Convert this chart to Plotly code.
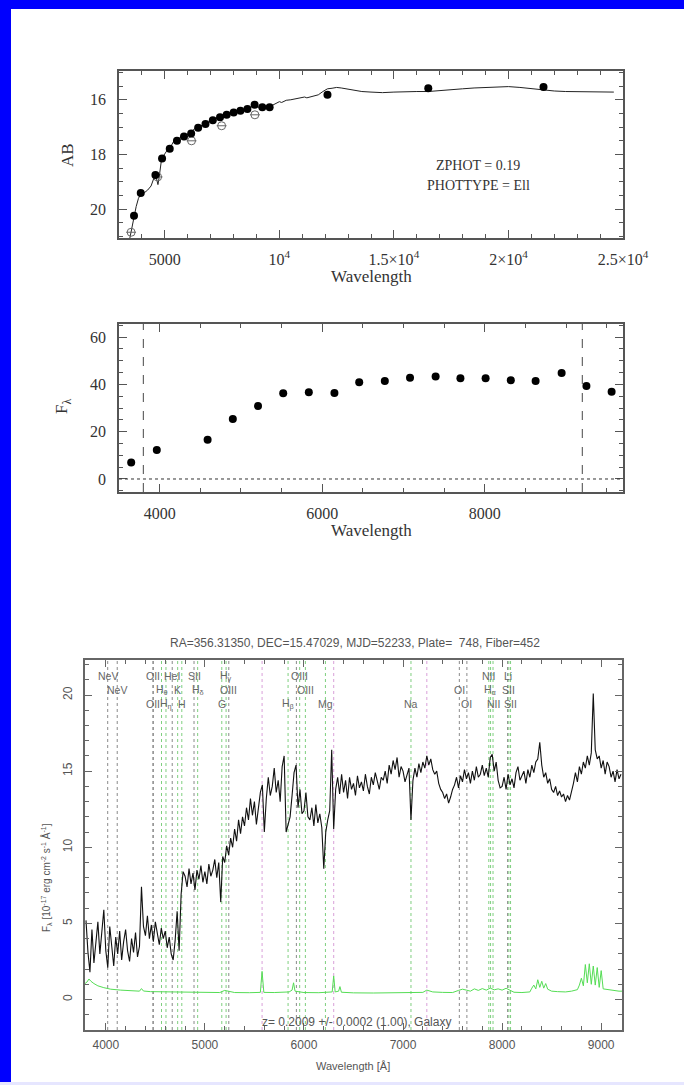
import plotly.graph_objects as go

W, H = 684, 1085

# ---------------- photometric SED (AB magnitudes) ----------------
phot_wave = [3655, 3950, 4590, 4880, 5215, 5530, 5837, 6150, 6455, 6775, 7095,
             7410, 7700, 8005, 8300, 8605, 8920, 9255, 9575, 12100, 16500, 21530]
phot_ab = [20.24, 19.41, 18.75, 18.15, 17.79, 17.50, 17.34, 17.23, 17.02, 16.89, 16.75,
           16.64, 16.55, 16.47, 16.40, 16.34, 16.18, 16.27, 16.27, 15.82, 15.58, 15.53]

ugriz_wave = [3530, 4686, 6166, 7480, 8932]
ugriz_ab = [20.84, 18.82, 17.50, 16.95, 16.55]

model_wave = [3450, 3550, 3650, 3750, 3850, 3950, 4100, 4250, 4400, 4500, 4550, 4600,
              4650, 4700, 4750, 4800, 4850, 4900, 5000, 5100, 5200, 5300, 5400, 5500,
              5600, 5700, 5800, 5900, 6000, 6100, 6200, 6300, 6400, 6500, 6700, 6900,
              7100, 7300, 7500, 7700, 7900, 8100, 8300, 8500, 8700, 8900, 9000, 9100,
              9300, 9500, 9700, 9900, 10000, 10100, 10200, 10300, 10500, 10800, 11100,
              11200, 11400, 11700, 11900, 12100, 12300, 12500, 12700, 12900, 13200,
              13600, 14000, 14500, 15000, 15500, 16000, 16500, 17000, 17500, 18000,
              18500, 19000, 19500, 20000, 20500, 21000, 21500, 22000, 22500, 23000,
              23500, 24000, 24600]
model_ab = [21.15, 20.70, 20.30, 19.90, 19.60, 19.45, 19.40, 19.30, 19.15, 18.90, 18.80,
            18.75, 18.95, 19.10, 18.85, 18.50, 18.22, 18.10, 17.95, 17.85, 17.80, 17.65,
            17.50, 17.45, 17.42, 17.38, 17.33, 17.30, 17.27, 17.23, 17.15, 17.05, 17.02,
            16.98, 16.90, 16.80, 16.74, 16.67, 16.62, 16.56, 16.50, 16.45, 16.40, 16.36,
            16.30, 16.22, 16.25, 16.27, 16.25, 16.27, 16.20, 16.10, 16.07, 16.10, 16.05,
            16.02, 16.00, 15.95, 15.90, 15.93, 15.88, 15.82, 15.70, 15.60, 15.58, 15.55,
            15.57, 15.60, 15.65, 15.70, 15.72, 15.74, 15.72, 15.70, 15.70, 15.70, 15.66,
            15.63, 15.60, 15.57, 15.55, 15.52, 15.52, 15.55, 15.60, 15.64, 15.68, 15.70,
            15.70, 15.71, 15.72, 15.72]

zphot_text = ["ZPHOT = 0.19", "PHOTTYPE = Ell"]

# ---------------- synthetic spectro-photometry ----------------
synth_wave = [3650, 3965, 4590, 4900, 5210, 5520, 5835, 6150, 6455, 6770, 7080,
              7395, 7700, 8010, 8320, 8625, 8945, 9250, 9560]
synth_flux = [7.0, 12.2, 16.6, 25.4, 30.8, 36.2, 36.7, 36.3, 40.9, 41.4, 42.8,
              43.3, 42.6, 42.6, 41.7, 41.4, 44.8, 39.3, 36.9]
spec_limits = [3800, 9200]

# ---------------- SDSS spectrum ----------------
spec_start, spec_step = 3800, 20
spec_flux = [
    5.2, 3.1, 1.8, 4.6, 2.4, 3.9, 5.1, 3.0, 4.4, 5.9,
    3.2, 2.1, 4.8, 3.6, 2.2, 4.1, 3.0, 4.5, 2.6, 3.8,
    4.6, 3.2, 2.5, 4.0, 3.1, 4.4, 2.8, 3.5, 7.4, 4.8,
    4.2, 5.5, 4.0, 4.9, 3.8, 5.1, 4.3, 3.6, 4.7, 4.0,
    4.5, 3.4, 4.1, 3.0, 2.6, 3.9, 5.8, 3.2, 6.9, 8.4,
    8.1, 7.4, 8.6, 7.6, 8.3, 7.2, 8.5, 7.9, 8.8, 7.7,
    8.4, 7.6, 8.9, 8.1, 8.5, 9.2, 8.0, 9.0, 6.4, 9.4,
    9.0, 10.1, 9.5, 10.6, 10.0, 11.2, 10.4, 11.8, 10.9, 12.0,
    11.4, 12.6, 11.8, 13.2, 12.1, 13.0, 11.5, 12.4, 13.6, 14.1,
    11.0, 13.2, 14.6, 13.4, 14.0, 15.2, 13.6, 14.4, 13.0, 15.3,
    16.0, 11.0, 11.6, 12.0, 13.4, 14.9, 15.4, 12.6, 13.8, 12.2,
    12.4, 13.6, 12.0, 11.8, 12.6, 11.4, 12.8, 11.6, 12.2, 11.3,
    8.6, 11.0, 11.8, 12.4, 16.4, 11.2, 13.8, 14.6, 13.5, 14.8,
    13.6, 14.4, 13.2, 14.6, 13.8, 14.2, 13.4, 14.7, 13.9, 14.3,
    13.7, 14.8, 14.0, 13.5, 14.6, 14.1, 14.9, 14.3, 13.8, 14.6,
    14.4, 15.0, 14.2, 15.4, 14.8, 15.7, 15.1, 15.9, 14.6, 15.3,
    15.0, 14.3, 14.8, 15.2, 11.8, 14.4, 15.2, 14.6, 15.5, 14.9,
    15.6, 15.2, 16.0, 15.4, 15.8, 15.1, 14.8, 15.0, 14.2, 13.8,
    13.6, 13.2, 13.5, 12.9, 13.3, 13.8, 14.1, 14.6, 13.9, 14.7,
    14.3, 15.1, 14.5, 14.9, 14.2, 15.0, 14.4, 15.3, 14.6, 14.8,
    15.4, 14.7, 15.2, 14.6, 15.9, 16.1, 15.0, 15.6, 14.4, 13.9,
    14.0, 14.6, 13.8, 14.8, 14.1, 14.5, 13.9, 14.9, 15.3, 14.4,
    14.7, 15.0, 14.2, 15.1, 14.6, 15.4, 14.9, 15.6, 15.8, 16.9,
    15.4, 14.6, 14.9, 14.2, 14.5, 13.8, 13.6, 14.0, 13.4, 13.7,
    13.3, 13.5, 13.0, 13.4, 13.1, 13.6, 14.2, 14.9, 14.3, 15.3,
    14.8, 15.6, 15.2, 16.0, 15.4, 16.2, 20.1, 16.4, 15.8, 16.0,
    15.2, 15.7, 14.8, 15.6, 15.3, 14.6, 15.0, 14.3, 15.1, 14.5,
    14.8,
]
spec_wave = [spec_start + spec_step * i for i in range(len(spec_flux))]

err_wave = [3790, 3810, 3830, 3850, 3880, 3920, 3980, 4050, 4150, 4250, 4340, 4360,
            4380, 4450, 4600, 4800, 5000, 5150, 5200, 5300, 5450, 5560, 5577, 5595,
            5700, 5850, 5880, 5895, 5910, 6000, 6150, 6250, 6285, 6300, 6315, 6350,
            6363, 6378, 6500, 6700, 6900, 7000, 7200, 7240, 7270, 7300, 7400, 7500,
            7560, 7600, 7640, 7680, 7720, 7760, 7800, 7840, 7880, 7920, 7960, 8000,
            8040, 8080, 8120, 8200, 8280, 8300, 8320, 8340, 8360, 8380, 8400, 8420,
            8440, 8460, 8500, 8560, 8640, 8700, 8760, 8780, 8800, 8820, 8840, 8860,
            8880, 8900, 8920, 8940, 8960, 8980, 9000, 9020, 9060, 9100, 9140, 9180,
            9210]
err_flux = [1.05, 1.15, 1.35, 1.20, 1.05, 0.90, 0.78, 0.68, 0.62, 0.58, 0.55, 0.72,
            0.56, 0.52, 0.50, 0.48, 0.46, 0.46, 0.60, 0.46, 0.45, 0.47, 1.85, 0.47,
            0.46, 0.50, 0.62, 1.10, 0.55, 0.46, 0.45, 0.46, 0.50, 1.55, 0.50, 0.55,
            0.85, 0.48, 0.44, 0.43, 0.44, 0.43, 0.47, 0.62, 0.55, 0.50, 0.47, 0.46,
            0.60, 0.68, 0.62, 0.55, 0.70, 0.60, 0.72, 0.62, 0.75, 0.64, 0.70, 0.62,
            0.74, 0.60, 0.48, 0.46, 0.50, 0.75, 0.95, 0.70, 1.30, 0.80, 1.20, 0.75,
            1.05, 0.68, 0.55, 0.52, 0.50, 0.55, 0.65, 0.95, 1.40, 0.90, 2.30, 1.10,
            2.35, 1.00, 2.20, 0.95, 2.10, 0.80, 1.90, 0.70, 0.65, 0.60, 0.58, 0.55,
            0.55]

redshift = 0.2009
# rest-frame line list: wavelength, label, label row, marker colour class
line_rest = [3346.79, 3426.85, 3727.09, 3729.88, 3798.98, 3836.47, 3889.00, 3934.78,
             3969.59, 4072.30, 4102.89, 4305.61, 4341.68, 4364.44, 4862.68, 4932.60,
             4960.30, 5008.24, 5176.70, 5895.60, 6302.05, 6365.54, 6549.86, 6564.61,
             6585.27, 6707.89, 6718.29, 6732.67]
line_name = ["NeV", "NeV", "OII", "OII", "H<sub>θ</sub>", "H<sub>η</sub>", "HeI", "K",
             "H", "SII", "H<sub>δ</sub>", "G", "H<sub>γ</sub>", "OIII", "H<sub>β</sub>", "",
             "OIII", "OIII", "Mg", "Na", "OI", "OI", "NII", "H<sub>α</sub>",
             "NII", "Li", "SII", "SII"]
line_row = [1, 2, 1, 3, 2, 3, 1, 2, 3, 1, 2, 3, 1, 2, 3, 0, 1, 2, 3, 3, 2, 3, 1, 2, 3, 1, 2, 3]
line_kind = ["e", "e", "e", "e", "a", "a", "e", "a", "a", "e", "a", "a", "a", "e", "a", "e",
             "a", "a", "a", "a", "e", "e", "a", "a", "a", "e", "a", "a"]
sky_lines = [5577.3, 6300.3, 7240.0]

spec_title = "RA=356.31350, DEC=15.47029, MJD=52233, Plate=  748, Fiber=452"
z_text = "z= 0.2009 +/- 0.0002 (1.00), Galaxy"


def px_x(p):
    return p / W


def px_y(p):
    return 1 - p / H


SERIF = "Liberation Serif"
SANS = "Liberation Sans"
INK = "#333333"
FRAME = "#555555"
SGRAY = "#555555"

fig = go.Figure()

# panel 1: SED model and photometry
fig.add_trace(go.Scatter(x=model_wave, y=model_ab, mode="lines",
                         line=dict(color="#222222", width=1), xaxis="x", yaxis="y"))
fig.add_trace(go.Scatter(x=ugriz_wave, y=ugriz_ab, mode="markers",
                         marker=dict(symbol="circle-open", size=8, color="#666666",
                                     line=dict(color="#666666", width=1)),
                         xaxis="x", yaxis="y"))
fig.add_trace(go.Scatter(x=ugriz_wave, y=ugriz_ab, mode="markers",
                         marker=dict(symbol="line-ew", size=7, color="#666666",
                                     line=dict(color="#666666", width=1)),
                         xaxis="x", yaxis="y"))
fig.add_trace(go.Scatter(x=phot_wave, y=phot_ab, mode="markers",
                         marker=dict(symbol="circle", size=8, color="black"),
                         xaxis="x", yaxis="y"))

# panel 2: synthetic fluxes
fig.add_trace(go.Scatter(x=synth_wave, y=synth_flux, mode="markers",
                         marker=dict(symbol="circle", size=8, color="black"),
                         xaxis="x2", yaxis="y2"))

# panel 3: spectrum and error
fig.add_trace(go.Scatter(x=err_wave, y=err_flux, mode="lines",
                         line=dict(color="#55dd55", width=1), xaxis="x3", yaxis="y3"))
fig.add_trace(go.Scatter(x=spec_wave, y=spec_flux, mode="lines",
                         line=dict(color="#111111", width=1.1), xaxis="x3", yaxis="y3"))

shapes = []
annotations = []

# frame colour border around the page
shapes.append(dict(type="rect", xref="paper", yref="paper", x0=0, x1=px_x(11), y0=0, y1=1,
                   fillcolor="#0000fe", line=dict(width=0), layer="above"))
shapes.append(dict(type="rect", xref="paper", yref="paper", x0=0, x1=1, y0=px_y(9), y1=1,
                   fillcolor="#0000fe", line=dict(width=0), layer="above"))
shapes.append(dict(type="rect", xref="paper", yref="paper", x0=0, x1=1, y0=0, y1=px_y(1082),
                   fillcolor="#e6e6ff", line=dict(width=0), layer="above"))

# panel 2 reference lines
shapes.append(dict(type="line", xref="x2 domain", yref="y2", x0=0, x1=1, y0=0, y1=0,
                   line=dict(color="#333333", width=1, dash="dot")))
for w in spec_limits:
    shapes.append(dict(type="line", xref="x2", yref="y2 domain", x0=w, x1=w, y0=0, y1=1,
                       line=dict(color="#666666", width=1.2, dash="dash")))


def label(x, y, text, font, xref="paper", angle=0):
    return dict(x=x, y=y, xref=xref, yref="paper", text=text, showarrow=False,
                xanchor="center", yanchor="middle", textangle=angle, font=font)


# panel 3 line markers
kind_color = {"e": "#8a8a8a", "a": "#7fcf7f"}
row_y = {1: 676, 2: 690, 3: 704}
line_font = dict(family=SANS, size=10.5, color="#666666")
for rest, name, row, kind in zip(line_rest, line_name, line_row, line_kind):
    obs = rest * (1 + redshift)
    shapes.append(dict(type="line", xref="x3", yref="y3 domain", x0=obs, x1=obs, y0=0, y1=1,
                       line=dict(color=kind_color[kind], width=1, dash="dot"), layer="below"))
    if name and row:
        annotations.append(label(obs, px_y(row_y[row]), name, line_font, xref="x3"))
for w in sky_lines:
    shapes.append(dict(type="line", xref="x3", yref="y3 domain", x0=w, x1=w, y0=0, y1=1,
                       line=dict(color="#d9a0d9", width=1, dash="dot"), layer="below"))

serif14 = dict(family=SERIF, size=14, color=INK)
serif17 = dict(family=SERIF, size=17, color=INK)
sans12 = dict(family=SANS, size=12, color=SGRAY)
sans11 = dict(family=SANS, size=11, color=SGRAY)
sans10 = dict(family=SANS, size=10, color=SGRAY)

annotations += [
    label(px_x(478), px_y(165), zphot_text[0], serif14),
    label(px_x(478), px_y(185), zphot_text[1], serif14),
    label(px_x(371), px_y(277), "Wavelength", serif17),
    label(px_x(68), px_y(155), "AB", serif17, angle=-90),
    label(px_x(371), px_y(530), "Wavelength", serif17),
    label(px_x(63), px_y(407), "F<sub>λ</sub>", serif17, angle=-90),
    label(px_x(355), px_y(643), spec_title, sans12),
    label(px_x(357), px_y(1022), z_text, sans12),
    label(px_x(353), px_y(1066), "Wavelength [Å]", sans11),
    label(px_x(46), px_y(878),
          "F<sub>λ</sub> [10<sup>-17</sup> erg cm<sup>-2</sup> s<sup>-1</sup> Å<sup>-1</sup>]",
          sans10, angle=-90),
]


def axis(domain, anchor, rng, color, tickfont, major_len=8, minor=None, **kw):
    d = dict(domain=domain, anchor=anchor, range=rng, showline=True, linecolor=color,
             linewidth=1.5, mirror="allticks", ticks="inside", ticklen=major_len,
             tickcolor=color, tickwidth=1, showgrid=False, zeroline=False,
             tickfont=tickfont, automargin=False)
    if minor:
        d["minor"] = dict(ticks="inside", ticklen=4, tickcolor=color, tickwidth=1,
                          showgrid=False, **minor)
    d.update(kw)
    return d


serif_ticks = dict(family=SERIF, size=16, color=INK)
sans_ticks = dict(family=SANS, size=12, color=SGRAY)

top_x = [px_x(119), px_x(623)]

fig.update_layout(
    width=W, height=H, autosize=False,
    margin=dict(l=0, r=0, t=0, b=0, pad=0, autoexpand=False),
    paper_bgcolor="white", plot_bgcolor="white", showlegend=False,
    xaxis=axis(top_x, "y", [3000, 25000], FRAME, serif_ticks,
               minor=dict(tick0=3000, dtick=1000),
               tickmode="array", tickvals=[5000, 10000, 15000, 20000, 25000],
               ticktext=["5000", "10<sup>4</sup>", "1.5×10<sup>4</sup>", "2×10<sup>4</sup>",
                         "2.5×10<sup>4</sup>"], ticklabelstandoff=6),
    yaxis=axis([px_y(238), px_y(71)], "x", [21.05, 14.95], FRAME, serif_ticks,
               minor=dict(tick0=15, dtick=0.5),
               tickmode="array", tickvals=[16, 18, 20], ticklabelstandoff=8),
    xaxis2=axis(top_x, "y2", [3500, 9700], FRAME, serif_ticks,
                minor=dict(tick0=3500, dtick=500),
                tickmode="array", tickvals=[4000, 6000, 8000], ticklabelstandoff=6),
    yaxis2=axis([px_y(492), px_y(324)], "x2", [-5.5, 65.5], FRAME, serif_ticks,
                minor=dict(tick0=0, dtick=5),
                tickmode="array", tickvals=[0, 20, 40, 60], ticklabelstandoff=8),
    xaxis3=axis([px_x(85), px_x(622)], "y3", [3790, 9210], "#666666", sans_ticks,
                major_len=7, minor=dict(tick0=3800, dtick=200),
                tickmode="array", tickvals=[4000, 5000, 6000, 7000, 8000, 9000],
                ticklabelstandoff=3),
    yaxis3=axis([px_y(1030), px_y(660)], "x3", [-2, 22.3], "#666666", sans_ticks,
                major_len=7, minor=dict(tick0=0, dtick=1),
                tickmode="array", tickvals=[0, 5, 10, 15, 20], tickangle=-90,
                ticklabelstandoff=6),
    shapes=shapes, annotations=annotations,
)

fig.write_html("out.html")
